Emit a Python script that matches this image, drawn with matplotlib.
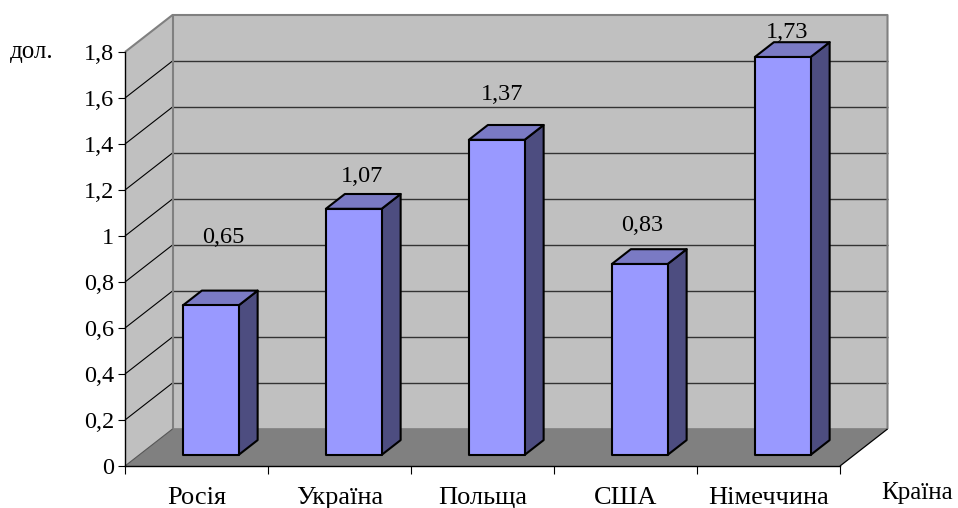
#!/usr/bin/env python3
# -*- coding: utf-8 -*-
import matplotlib
matplotlib.use("Agg")
import matplotlib.pyplot as plt
from matplotlib.patches import Polygon

plt.rcParams["font.family"] = ["Liberation Serif", "DejaVu Serif"]

countries = ["Росія", "Україна", "Польща", "США", "Німеччина"]
values = [0.65, 1.07, 1.37, 0.83, 1.73]
value_labels = ["0,65", "1,07", "1,37", "0,83", "1,73"]
y_ticks = [0, 0.2, 0.4, 0.6, 0.8, 1, 1.2, 1.4, 1.6, 1.8]
y_tick_labels = ["0", "0,2", "0,4", "0,6", "0,8", "1", "1,2", "1,4", "1,6", "1,8"]

# where each value label floats relative to its bar, in pixels
label_lift = [68, 32, 45, 39, 25]
label_shift = [3, -1, -4, -7, -5]

W, H = 958, 508
fig = plt.figure(figsize=(W / 100, H / 100), dpi=100)
ax = fig.add_axes([125 / W, 1 - 466 / H, 715 / W, 414 / H])
ax.set_xlim(0, 5)
ax.set_ylim(0, 1.8)
ax.patch.set_visible(False)

# depth of the box in data units
DX = 47.5 / 143
DY = 37 / 230


def depth(x, y, f):
    return (x + DX * f, y + DY * f)


def poly(pts, fc, ec="none", lw=0, z=1):
    ax.add_patch(Polygon(pts, closed=True, facecolor=fc, edgecolor=ec, linewidth=lw,
                         zorder=z, clip_on=False, joinstyle="round"))


def line(xs, ys, color, lw, z=2):
    ax.plot(xs, ys, color=color, linewidth=lw, zorder=z, clip_on=False, solid_capstyle="butt")


# walls and floor
poly([(0, 0), depth(0, 0, 1), depth(0, 1.8, 1), (0, 1.8)], "#c0c0c0")
poly([depth(0, 0, 1), depth(5, 0, 1), depth(5, 1.8, 1), depth(0, 1.8, 1)], "#c0c0c0")
poly([(0, 0), (5, 0), depth(5, 0, 1), depth(0, 0, 1)], "#808080")

# gridlines on both walls
for t in y_ticks[1:-1]:
    line([0, DX], [t, t + DY], "#000000", 0.8)
    line([DX, 5 + DX], [t + DY, t + DY], "#333333", 1.0)

# wall outlines
line([0, DX, 5 + DX, 5 + DX], [1.8, 1.8 + DY, 1.8 + DY, DY], "#808080", 1.5, z=3)
line([DX, DX], [DY, 1.8 + DY], "#808080", 1.5, z=3)
line([DX, 5 + DX], [DY, DY], "#808080", 1.2, z=3)
line([0, DX], [0, DY], "#555555", 0.8, z=3)
line([5, 5 + DX], [0, DY], "#000000", 0.9, z=3)

# bars, front face sits 30% into the depth
bar_w = 0.39
f0, f1 = 0.3, 0.7
for i, v in enumerate(values):
    x0 = i + 0.5 - bar_w / 2
    x1 = i + 0.5 + bar_w / 2
    side = [depth(x1, 0, f0), depth(x1, 0, f1), depth(x1, v, f1), depth(x1, v, f0)]
    top = [depth(x0, v, f0), depth(x0, v, f1), depth(x1, v, f1), depth(x1, v, f0)]
    front = [depth(x0, 0, f0), depth(x1, 0, f0), depth(x1, v, f0), depth(x0, v, f0)]
    poly(side, "#4d4d80", "black", 1.5, z=5)
    poly(top, "#7a7ac4", "black", 1.5, z=5)
    poly(front, "#9999ff", "black", 1.5, z=6)
    cx, cy = depth(i + 0.5, v, f0)
    ax.annotate(value_labels[i], (depth(i + 0.5, v, 0.5)[0], cy),
                xytext=(label_shift[i] * 0.72, label_lift[i] * 0.72),
                textcoords="offset points", ha="center", va="center", fontsize=17.5, color="black",
                annotation_clip=False, zorder=7)

# axes
for s in ["top", "right"]:
    ax.spines[s].set_visible(False)
ax.spines["left"].set_linewidth(1.0)
ax.spines["bottom"].set_linewidth(1.0)
ax.spines["left"].set_zorder(8)
ax.spines["bottom"].set_zorder(8)

ax.set_yticks(y_ticks)
ax.set_yticklabels(y_tick_labels, fontsize=17.5)
ax.tick_params(axis="y", length=5, width=0.8, pad=3)

ax.set_xticks(range(6))
ax.set_xticklabels([])
ax.tick_params(axis="x", which="major", length=6, width=0.8)
ax.set_xticks([i + 0.5 for i in range(5)], minor=True)
ax.set_xticklabels(countries, minor=True, fontsize=19)
ax.tick_params(axis="x", which="minor", length=0, pad=15)

fig.text(10 / W, 1 - 52 / H, "дол.", fontsize=18, ha="left", va="center")
fig.text(881 / W, 1 - 493 / H, "Країна", fontsize=18, ha="left", va="center")

fig.savefig("out.png", dpi=100)
